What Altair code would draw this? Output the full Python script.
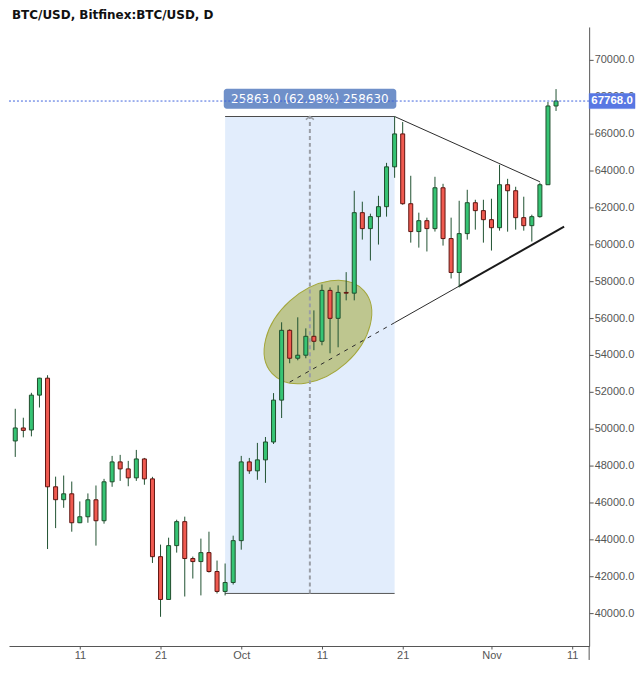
import altair as alt
import pandas as pd

title_text = "BTC/USD, Bitfinex:BTC/USD, D"

dates = pd.date_range("2021-09-03", "2021-11-09", freq="D").strftime("%Y-%m-%d").tolist()

opens = [49335, 50040, 49930, 51820, 52740, 46850, 46150, 46470, 44900, 45225,
         46145, 45010, 47120, 48200, 47820, 47335, 48360, 47280, 43060, 40740,
         43660, 44960, 42960, 42795, 43280, 42255, 41175, 41660,
         43930, 48200, 47715, 48310, 49280, 51550, 55335, 53820, 53985, 55010,
         54740, 57500, 55985, 57390, 57350, 61715, 60850, 61500, 62040, 64200,
         65985, 62200, 60690, 61280, 60850, 63065, 60310, 58470, 60580, 62255, 61825,
         61335, 60900, 63230, 62905, 61445, 61010, 61500, 63230, 67500]
closes = [50040, 49910, 51820, 52740, 46850, 46150, 46470, 44900, 45225, 46145,
          45010, 47120, 48200, 47820, 47335, 48360, 47280, 43060, 40740, 43660,
          44960, 42960, 42795, 43280, 42255, 41175, 41660, 43930,
          48200, 47715, 48310, 49280, 51550, 55335, 53820, 53985, 55010, 54740,
          57500, 55985, 57390, 57350, 61715, 60850, 61500, 62040, 64200, 65985,
          62200, 60690, 61280, 60850, 63065, 60310, 58470, 60580, 62255, 61825, 61335,
          60900, 63230, 62905, 61445, 61010, 61500, 63230, 67500, 67768]
highs = [51080, 50595, 51946, 52760, 52900, 47400, 47460, 47135, 46055, 46490,
         46920, 47280, 48525, 48580, 48255, 48850, 48415, 47390, 43715, 44090,
         45065, 45230, 43065, 44040, 44415, 42850, 42690, 44200,
         48525, 48415, 49230, 49550, 51930, 55770, 55390, 56040, 55440, 56415,
         57820, 57660, 57770, 58490, 62900, 62310, 61660, 62630, 64415, 66929,
         66630, 63715, 61715, 61445, 63660, 63280, 61445, 62360, 62955, 62415, 62415,
         62470, 64310, 63550, 63120, 62580, 61605, 63340, 67715, 68415]
lows = [48470, 49530, 49584, 51150, 43475, 44610, 45710, 44415, 44880, 44900,
        43660, 44850, 46850, 47170, 46880, 47170, 46960, 42720, 39800, 40740,
        43280, 40900, 41875, 40960, 42200, 41065, 40960, 41550,
        43440, 47550, 47230, 47065, 49170, 50580, 53550, 53710, 53820, 54255,
        54525, 54090, 54415, 56960, 56960, 60255, 59120, 59985, 61500, 63605,
        62145, 60090, 59820, 59610, 60690, 59930, 58145, 57660, 60255, 60795, 60090,
        59660, 60740, 60685, 60795, 60740, 60150, 61445, 63230, 67230]

y_ticks = list(range(40000, 70001, 2000))
x_ticks = [(9, 11), (9, 21), (10, 1), (10, 11), (10, 21), (11, 1), (11, 11)]

# measuring tool
measure_start = "2021-09-29"
measure_end = "2021-10-20"
measure_mid = "2021-10-09T12:00:00Z"
measure_low = 41066
measure_high = 66929
measure_text = "25863.0 (62.98%) 258630"
box_left = "2021-09-28T20:00:00Z"
box_right = "2021-10-20T05:00:00Z"
box_bottom = 67350
box_top = 68430
box_text_value = 67890

last_price = 67768
last_price_text = "67768.0"

ellipse_date = "2021-10-10T12:00:00Z"
ellipse_value = 55243

trend_dates_a = ["2021-10-20", "2021-10-07", "2021-10-20", "2021-10-28"]
trend_values_a = [66929, 52525, 55750, 57733]
trend_dates_b = ["2021-11-07", "2021-10-20", "2021-10-28", "2021-11-10"]
trend_values_b = [63390, 55750, 57733, 60957]
trend_style = ["solid", "dashed", "solid", "thick"]

UP_FILL = "#36c474"
DOWN_FILL = "#f05a50"
UP_STROKE = "#1f4d2c"
DOWN_STROKE = "#5e1410"
WICK = "#215232"

W, H = 582, 621

x_scale = alt.Scale(type="utc",
                    domain=[alt.DateTime(year=2021, month=9, date=2, hours=20, minutes=13, utc=True),
                            alt.DateTime(year=2021, month=11, date=12, hours=11, minutes=38, utc=True)])
y_scale = alt.Scale(domain=[38216, 71784], nice=False, zero=False)

x_axis = alt.Axis(values=[alt.DateTime(year=2021, month=m, date=d, utc=True) for m, d in x_ticks],
                  labelExpr="utcdate(datum.value) == 1 ? utcFormat(datum.value, '%b') : utcFormat(datum.value, '%-d')",
                  title=None, tickSize=3, labelPadding=1, labelFontSize=11)
y_axis = alt.Axis(orient="right", values=y_ticks, format=".1f", title=None,
                  tickSize=4, labelPadding=1, labelFontSize=11)

df = pd.DataFrame({"date": dates, "open": opens, "high": highs, "low": lows, "close": closes})


def X(field):
    return alt.X(field, type="temporal", scale=x_scale, axis=x_axis)


def Y(field):
    return alt.Y(field, type="quantitative", scale=y_scale, axis=y_axis)


measure_df = pd.DataFrame({"start": [measure_start], "end": [measure_end], "mid": [measure_mid],
                           "low": [measure_low], "high": [measure_high]})
shade = alt.Chart(measure_df).mark_rect(color="#e2edfc").encode(
    x=X("start"), x2="end", y=Y("low"), y2="high")
edge_top = alt.Chart(measure_df).mark_rule(color="#4a4a4a", strokeWidth=1).encode(
    x=X("start"), x2="end", y=Y("high"))
edge_bottom = alt.Chart(measure_df).mark_rule(color="#555555", strokeWidth=1).encode(
    x=X("start"), x2="end", y=Y("low"))
vline = alt.Chart(measure_df).mark_rule(color="#9a9ea6", strokeWidth=2, strokeDash=[4, 3]).encode(
    x=X("mid"), y=Y("low"), y2="high")
arrow = alt.Chart(measure_df).mark_point(shape="M -1 0.8 L 0 0 L 1 0.8", filled=False,
                                         stroke="#9a9ea6", strokeWidth=1.5, size=64, opacity=1).encode(
    x=X("mid"), y=Y("high"))

ell_df = pd.DataFrame({"d": [ellipse_date], "v": [ellipse_value]})
ellipse = alt.Chart(ell_df).mark_point(
    shape="M -1 0 A 1 0.677 0 1 1 1 0 A 1 0.677 0 1 1 -1 0 Z",
    size=15376, angle=318, filled=True, fill="#bec68f", fillOpacity=1,
    stroke="#a3a63a", strokeWidth=1, opacity=1).encode(x=X("d"), y=Y("v"))

trend_df = pd.DataFrame({"d1": trend_dates_a, "v1": trend_values_a,
                         "d2": trend_dates_b, "v2": trend_values_b, "style": trend_style})
trend_solid = alt.Chart(trend_df).transform_filter("datum.style == 'solid'").mark_rule(
    color="#2b2b2b", strokeWidth=1).encode(x=X("d1"), y=Y("v1"), x2="d2", y2="v2")
trend_dash = alt.Chart(trend_df).transform_filter("datum.style == 'dashed'").mark_rule(
    color="#2b2b2b", strokeWidth=1, strokeDash=[4, 5]).encode(x=X("d1"), y=Y("v1"), x2="d2", y2="v2")
trend_thick = alt.Chart(trend_df).transform_filter("datum.style == 'thick'").mark_rule(
    color="#1a1a1a", strokeWidth=2).encode(x=X("d1"), y=Y("v1"), x2="d2", y2="v2")

wicks = alt.Chart(df).mark_rule(color=WICK, strokeWidth=1).encode(
    x=X("date"), y=Y("low"), y2="high")
bodies = alt.Chart(df).mark_bar(size=4, strokeWidth=1).encode(
    x=X("date"), y=Y("open"), y2="close",
    fill=alt.condition("datum.open <= datum.close", alt.value(UP_FILL), alt.value(DOWN_FILL)),
    stroke=alt.condition("datum.open <= datum.close", alt.value(UP_STROKE), alt.value(DOWN_STROKE)))

box_df = pd.DataFrame({"l": [box_left], "r": [box_right], "b": [box_bottom], "t": [box_top],
                       "mid": [measure_mid], "tv": [box_text_value], "txt": [measure_text]})
box = alt.Chart(box_df).mark_rect(color="#6f90c9", cornerRadius=3).encode(
    x=X("l"), x2="r", y=Y("b"), y2="t")
box_txt = alt.Chart(box_df).mark_text(color="white", font="DejaVu Sans", fontSize=12,
                                      baseline="middle", align="center").encode(
    x=X("mid"), y=Y("tv"), text="txt")

price_df = pd.DataFrame({"p": [last_price], "txt": [last_price_text]})
price_line = alt.Chart(price_df).mark_rule(color="#3e63dd", strokeWidth=1, strokeDash=[2, 2]).encode(
    y=Y("p"))
price_box = alt.Chart(price_df).mark_point(
    shape="M -1 -0.33 L 1 -0.33 L 1 0.33 L -1 0.33 Z", size=2116, filled=True,
    fill="#5877e3", stroke="#5877e3", strokeWidth=0.5, opacity=1).encode(
    x=alt.value(605), y=Y("p"))
price_txt = alt.Chart(price_df).mark_text(color="white", font="Liberation Sans", fontWeight="bold",
                                          fontSize=11.5, baseline="middle", align="center").encode(
    x=alt.value(605), y=Y("p"), text="txt")

axis_ext = alt.Chart(price_df).mark_rule(color="#555555", strokeWidth=1).encode(
    x=alt.value(W), y=alt.value(H), y2=alt.value(H + 14))

title_df = pd.DataFrame({"t": [title_text]})
title = alt.Chart(title_df).mark_text(align="left", baseline="middle", font="DejaVu Sans",
                                      fontWeight="bold", fontSize=12, color="#111111").encode(
    x=alt.value(3), y=alt.value(-12), text="t")

chart = alt.layer(
    shade, ellipse, edge_top, edge_bottom, vline, arrow,
    trend_dash, trend_solid, trend_thick, wicks, bodies,
    box, box_txt, price_line, price_box, price_txt, axis_ext, title
).properties(
    width=W, height=H, padding={"left": 0, "top": 0, "right": 0, "bottom": 0}, background="white"
).configure_view(strokeWidth=0).configure_axis(
    grid=False, domainColor="#555555", tickColor="#555555", labelColor="#555555",
    labelFont="Liberation Sans", domainWidth=1
)

chart.save("out.html", embed_options={"renderer": "svg", "actions": False})
